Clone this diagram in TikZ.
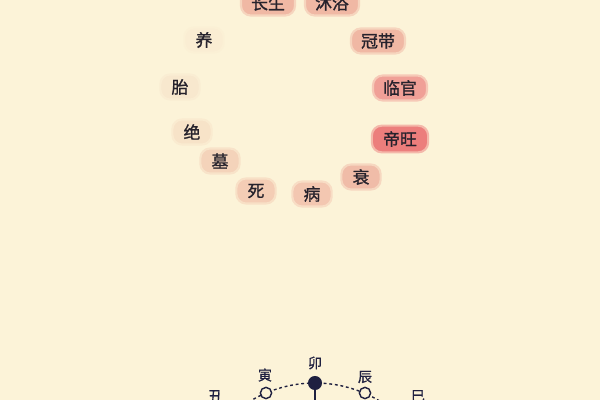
\documentclass[tikz,border=0pt]{standalone}
\usepackage{fontspec}
\newfontfamily\cjk[FakeBold=1.2]{Noto Sans CJK SC}
\newfontfamily\cjkb[FakeBold=0.8]{Noto Sans CJK SC}
\definecolor{bg}{HTML}{FCF3D8}
\definecolor{ink}{HTML}{26222C}
\definecolor{navy}{HTML}{1F2040}
\definecolor{pA}{HTML}{F0B8A4}
\definecolor{pB}{HTML}{F0A097}
\definecolor{pC}{HTML}{EC7E7C}
\definecolor{pD}{HTML}{F0BCA8}
\definecolor{pE}{HTML}{F3C7B1}
\definecolor{pF}{HTML}{F4CDB5}
\definecolor{pG}{HTML}{F4D3BA}
\definecolor{pH}{HTML}{F7E3C8}
\definecolor{pI}{HTML}{F8E8CE}
\definecolor{pJ}{HTML}{FAEDD3}
\tikzset{
  pill/.style={rounded corners=7pt, inner sep=0pt, minimum height=17.8pt, minimum width=38.4pt, text=ink, font=\cjk\fontsize{12}{14}\selectfont, line width=1.5pt},
  pillone/.style={pill, minimum width=28pt},
  branch/.style={text=navy, font=\cjkb\fontsize{10}{12}\selectfont},
  hollow/.style={circle, draw=navy, fill=bg, line width=1pt, inner sep=0pt, minimum size=8pt},
  solid/.style={circle, fill=navy, inner sep=0pt, minimum size=10pt},
  dotarc/.style={navy, line width=1pt, dash pattern=on 2pt off 2pt},
}
\begin{document}
\begin{tikzpicture}[x=0.025cm,y=-0.025cm]
\useasboundingbox (0,0) rectangle (600,400);
\fill[bg] (0,0) rectangle (600,400);
\clip (0,0) rectangle (600,400);
% twelve stages
\node[pill, fill=pA, draw=pA!50!bg] (changsheng) at (268,3) {长生};
\node[pill, fill=pA, draw=pA!50!bg] (muyu) at (332,3) {沐浴};
\node[pill, fill=pA, draw=pA!50!bg] (guandai) at (378,41) {冠带};
\node[pill, fill=pB, draw=pB!50!bg] (linguan) at (400,88) {临官};
\node[pill, fill=pC, draw=pC!50!bg, minimum width=40pt, minimum height=19pt] (diwang) at (400,139) {帝旺};
\node[pillone, fill=pD, draw=pD!50!bg] (shuai) at (361,177) {衰};
\node[pillone, fill=pE, draw=pE!50!bg] (bing) at (312,194) {病};
\node[pillone, fill=pF, draw=pF!50!bg] (si) at (256,191) {死};
\node[pillone, fill=pG, draw=pG!50!bg] (mu) at (220,161) {墓};
\node[pillone, fill=pH, draw=pH!50!bg] (jue) at (192,132) {绝};
\node[pillone, fill=pI, draw=pI!50!bg] (tai) at (180,87) {胎};
\node[pillone, fill=pJ, draw=pJ!50!bg] (yang) at (204,40) {养};
% bottom branch arc
\draw[dotarc] plot[domain=-45:45, samples=60] ({315+125*sin(\x)},{508-125*cos(\x)});
\node[hollow] (cyin) at (266,393) {};
\node[solid] (cmao) at (315,383) {};
\node[hollow] (cchen) at (365,393) {};
\coordinate (mbottom) at (315,405);
\draw[navy, line width=1.2pt] (cmao) -- (mbottom);
\node[branch] (yin) at (265,375) {寅};
\node[branch] (mao) at (315,363) {卯};
\node[branch] (chen) at (365,377) {辰};
\node[branch] (chou) at (215,396) {丑};
\node[branch] (si2) at (418,396) {巳};
\end{tikzpicture}
\end{document}
